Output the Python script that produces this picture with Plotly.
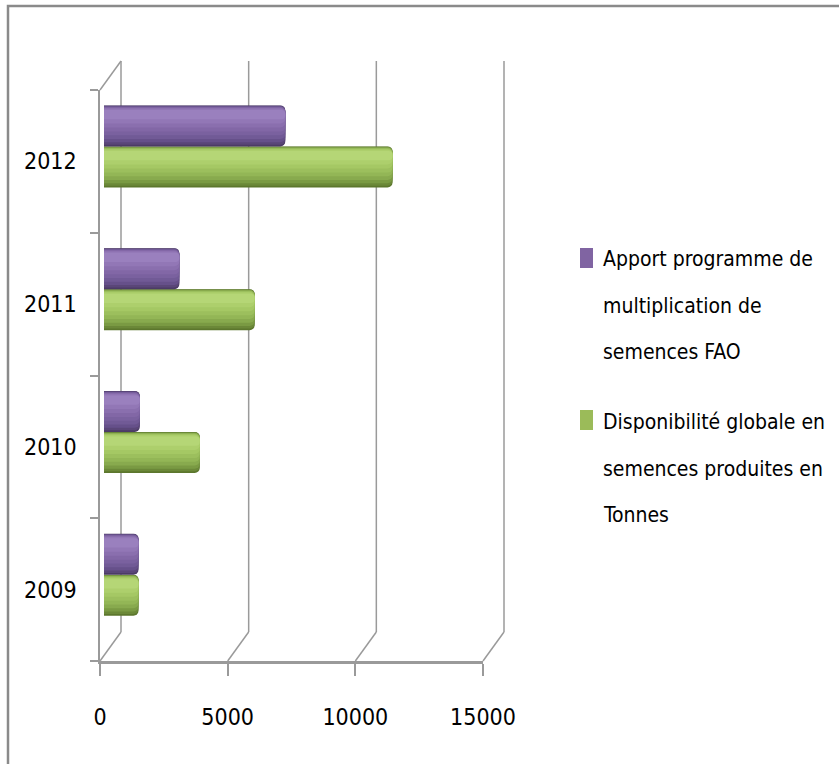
import plotly.graph_objects as go

# ---------------- data ----------------
years = ["2009", "2010", "2011", "2012"]
apport_fao = [1350, 1400, 2950, 7100]
disponibilite = [1350, 3750, 5900, 11300]
x_ticks = [0, 5000, 10000, 15000]
x_tick_text = ["0", "5000", "10000", "15000"]
series_lines = [
    ["Apport programme de", "multiplication de", "semences FAO"],
    ["Disponibilité globale en", "semences produites en", "Tonnes"],
]
series_names = [" ".join(l) for l in series_lines]

# ---------------- layout geometry (pixels) ----------------
FIG_W, FIG_H = 839, 764
L, T = 96, 58
PW, PH = 411, 606
R, B = FIG_W - L - PW, FIG_H - T - PH
BOTTOM = T + PH
FX0, FX1 = 100, 483          # front plane x: value 0 .. 15000
FY0, FY1 = 90, 661           # front plane y: top .. bottom
DX, DY = 21, 29              # 3D depth offset (back wall)
BX0 = 104                    # bar plane: pixel of value 0
BDY = 15                     # bar plane lifted by this many px
XMAX = 15000
SCALE = (FX1 - FX0) / XMAX   # px per unit
BAND = (FY1 - FY0) / len(years)


def pxx(x):
    return (x - L) / PW


def pxy(y):
    return (BOTTOM - y) / PH


def cat_at(py):
    return (FY1 - BDY - py) / BAND - 0.5


FONT = "DejaVu Sans Condensed, Liberation Sans Narrow, Arial Narrow, sans-serif"
GRID = "#9a9a9a"
AXIS = "#9a9a9a"

main_colors = ["#8064a2", "#9bbb59"]
shades = [
    ["#4c3b66", "#5a4678", "#66508a", "#715a96", "#7a619f", "#8267a6",
     "#8a6fae", "#9277b6", "#9a80be"],
    ["#5c772d", "#6b8838", "#7a9a43", "#88aa4e", "#93b656", "#9cbf5d",
     "#a5c864", "#adcf6c", "#b5d676"],
]
bands = [(0.0, 1.0), (0.04, 0.99), (0.10, 0.98), (0.18, 0.97), (0.27, 0.96),
         (0.36, 0.95), (0.46, 0.935), (0.56, 0.915), (0.66, 0.89)]

fig = go.Figure()

# bars (subplot x/y spanning the whole plot area, mid-depth plane)
bw = 41 / BAND
order = [(1, disponibilite, -bw), (0, apport_fao, 0.0)]
for idx, vals, base_off in order:
    for k, (f0, f1) in enumerate(bands):
        fig.add_trace(go.Bar(
            y=years, x=vals, orientation="h",
            xaxis="x", yaxis="y",
            offset=base_off + f0 * bw, width=(f1 - f0) * bw,
            marker=dict(color=shades[idx][k], line=dict(width=0), cornerradius=5),
            name=series_names[idx], showlegend=False,
            hoverinfo="x+y+name" if k == 4 else "skip",
        ))

# invisible carrier trace so that the front-plane axes get drawn
fig.add_trace(go.Scatter(x=apport_fao, y=years, xaxis="x2", yaxis="y2",
                         mode="markers", marker=dict(opacity=0),
                         hoverinfo="skip", showlegend=False))

fig.update_layout(
    width=FIG_W, height=FIG_H,
    margin=dict(l=L, r=R, t=T, b=B, pad=0, autoexpand=False),
    paper_bgcolor="white", plot_bgcolor="rgba(0,0,0,0)",
    barmode="overlay",
    showlegend=False,
    font=dict(family=FONT, size=23, color="black"),
    # bars plane
    xaxis=dict(domain=[0, 1], range=[(L - BX0) / SCALE, (L + PW - BX0) / SCALE],
               visible=False, anchor="y", fixedrange=True),
    yaxis=dict(domain=[0, 1], type="category",
               categoryorder="array", categoryarray=years,
               range=[cat_at(BOTTOM), cat_at(T)],
               visible=False, anchor="x", fixedrange=True),
    # front plane (axes + labels)
    xaxis2=dict(domain=[pxx(FX0), pxx(FX1)], range=[0, XMAX], tickvals=x_ticks,
                ticktext=x_tick_text,
                ticks="outside", ticklen=12, tickcolor=AXIS, tickwidth=1.5,
                showline=True, linecolor=AXIS, linewidth=3, showgrid=False,
                zeroline=False, ticklabelstandoff=21, anchor="y2", fixedrange=True,
                tickfont=dict(family=FONT, size=23, color="black")),
    yaxis2=dict(domain=[pxy(FY1), pxy(FY0)], type="category",
                categoryorder="array", categoryarray=years, range=[-0.5, 3.5],
                tickson="boundaries", ticks="outside", ticklen=8,
                tickcolor=AXIS, tickwidth=1.5,
                showline=True, linecolor=AXIS, linewidth=1.5,
                showgrid=False, zeroline=False, ticklabelstandoff=17,
                anchor="x2", fixedrange=True,
                tickfont=dict(family=FONT, size=23, color="black")),
)

shapes = []
# back-wall gridlines (behind the bars)
for v in x_ticks:
    shapes.append(dict(type="line", xref="x", xsizemode="pixel", xanchor=v,
                       x0=FX0 + DX - BX0, x1=FX0 + DX - BX0, yref="paper",
                       y0=pxy(FY1 - DY), y1=pxy(FY0 - DY),
                       layer="below", line=dict(color=GRID, width=1.5)))
# floor diagonals from front to back wall
for v in x_ticks:
    shapes.append(dict(type="line", xref="x", xsizemode="pixel", xanchor=v,
                       x0=FX0 - BX0, x1=FX0 + DX - BX0, yref="paper",
                       y0=pxy(FY1), y1=pxy(FY1 - DY),
                       layer="below", line=dict(color=GRID, width=1.5)))
# top-left diagonal (side wall)
shapes.append(dict(type="line", xref="x", xsizemode="pixel", xanchor=0,
                   x0=FX0 - BX0, x1=FX0 + DX - BX0, yref="paper",
                   y0=pxy(FY0), y1=pxy(FY0 - DY),
                   layer="below", line=dict(color=GRID, width=1.5)))
# chart border
shapes.append(dict(type="rect", xref="paper", yref="paper",
                   x0=pxx(8), x1=pxx(FIG_W + 20), y0=pxy(FIG_H + 20), y1=pxy(6),
                   line=dict(color="#8a8a8a", width=2.5), fillcolor="rgba(0,0,0,0)",
                   layer="above"))
# legend swatches
sw_tops = [248, 410]
for idx, top in enumerate(sw_tops):
    shapes.append(dict(type="rect", xref="paper", yref="paper",
                       x0=pxx(580), x1=pxx(593), y0=pxy(top + 20), y1=pxy(top),
                       fillcolor=main_colors[idx], line=dict(width=0)))
fig.update_layout(shapes=shapes)

# legend text (one annotation per line to reproduce line spacing)
annotations = []
line_starts = [259, 422]
for idx, lines in enumerate(series_lines):
    for j, txt in enumerate(lines):
        annotations.append(dict(text=txt, xref="paper", yref="paper",
                                x=pxx(601), y=pxy(line_starts[idx] + 46.5 * j),
                                xanchor="left", yanchor="middle", showarrow=False,
                                font=dict(family=FONT, size=21, color="black")))
fig.update_layout(annotations=annotations)

fig.write_html("out.html", config={"displayModeBar": False},
               post_script="document.body.style.margin='0px';")
